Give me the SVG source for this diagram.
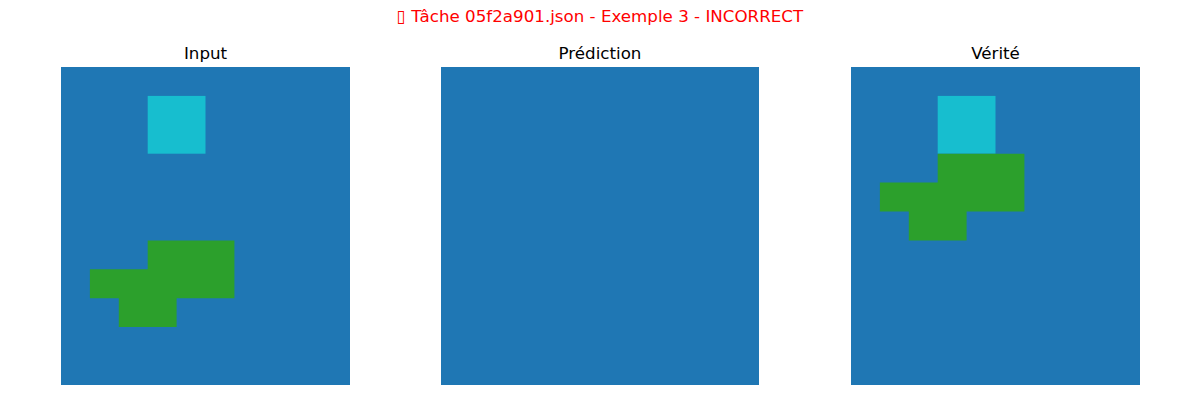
<svg xmlns="http://www.w3.org/2000/svg" width="1200" height="400" viewBox="0 0 1200 400">
<style>
.t{font-family:"DejaVu Sans",sans-serif;font-size:16.7px;fill:#000;text-anchor:middle}
.sup{font-family:"DejaVu Sans",sans-serif;font-size:16.7px;fill:#ff0000;text-anchor:middle}
.bg{fill:#1f77b4}
.cy{fill:#17becf}
.gr{fill:#2ca02c}
</style>
<rect width="1200" height="400" fill="#fff"/>
<text class="sup" x="600" y="22">▯ Tâche 05f2a901.json - Exemple 3 - INCORRECT</text>
<g id="input">
<text class="t" x="205.5" y="59">Input</text>
<rect class="bg" x="61" y="67" width="289" height="318"/>
<rect class="cy" x="147.7" y="95.9" width="57.8" height="57.8"/>
<path class="gr" d="M147.7 240.4H234.4V298.2H176.6V327.1H118.8V298.2H89.9V269.3H147.7Z"/>
</g>
<g id="prediction">
<text class="t" x="600" y="59">Prédiction</text>
<rect class="bg" x="441" y="67" width="318" height="318"/>
</g>
<g id="verite">
<text class="t" x="995.5" y="59">Vérité</text>
<rect class="bg" x="851" y="67" width="289" height="318"/>
<rect class="cy" x="937.7" y="95.9" width="57.8" height="57.8"/>
<path class="gr" d="M937.7 153.7H1024.4V211.5H966.6V240.4H908.8V211.5H879.9V182.6H937.7Z"/>
</g>
<g id="connectors"/>
</svg>
